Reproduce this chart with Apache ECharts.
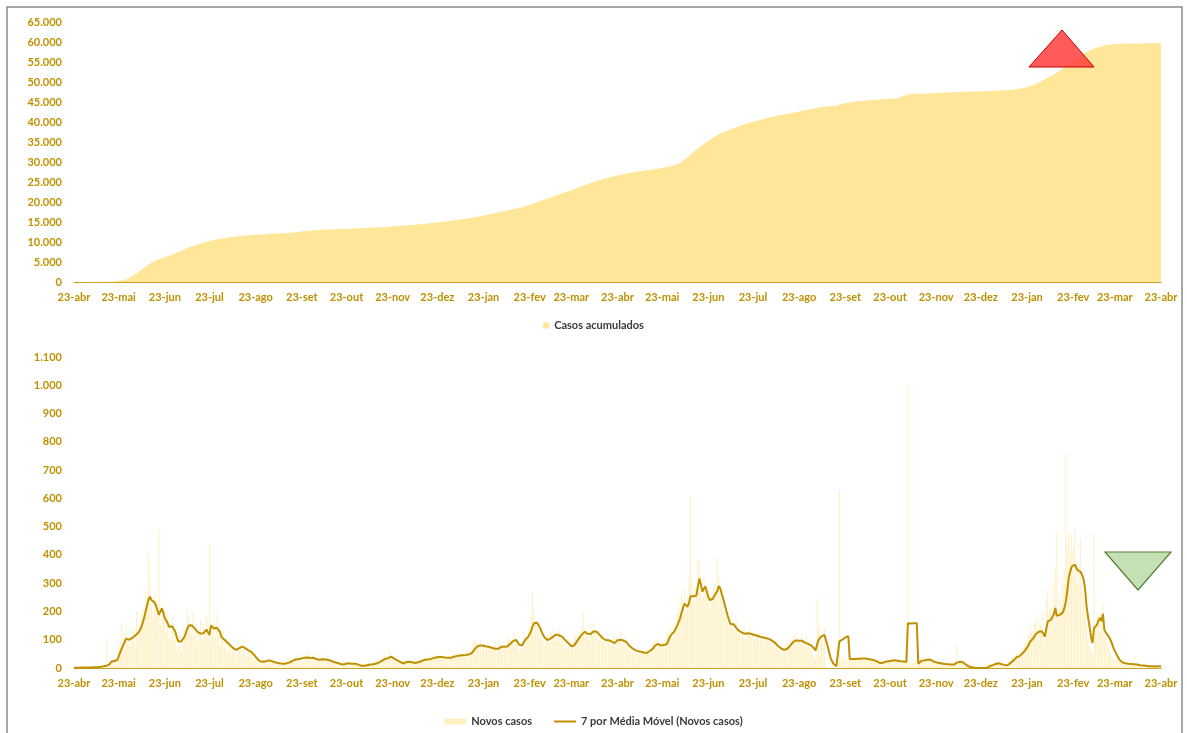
<!DOCTYPE html>
<html><head><meta charset="utf-8">
<script src="https://cdn.jsdelivr.net/npm/echarts@6/dist/echarts.min.js"></script>
<style>html,body{margin:0;padding:0;background:#fff}#c{width:1187px;height:733px}</style>
</head><body><div id="c"></div>
<script>
// ---- data ----
const startDate = [2020, 4, 23];
const dayCount = 731;
const monthAbbr = ['jan','fev','mar','abr','mai','jun','jul','ago','set','out','nov','dez'];
const cumulativeStepDays = 7;
// cumulative cases, one reading every 7 days from 23-abr-2020, last one on 23-abr-2022
const cumulativeCases = [
 10,20,40,70,200,650,2100,4100,5600,6450,
 7450,8650,9500,10250,10800,11200,11500,11750,11900,12050,
 12200,12400,12700,12950,13100,13200,13300,13400,13500,13600,
 13750,14000,14200,14400,14650,14950,15250,15600,16000,16450,
 17000,17550,18100,18700,19500,20500,21400,22300,23200,24200,
 25100,25900,26550,27150,27550,27950,28300,28800,29500,31500,
 33700,35600,37100,38200,39100,39950,40650,41300,41800,42300,
 42900,43400,43900,44000,44750,45150,45350,45550,45750,45950,
 46950,47050,47150,47300,47400,47500,47600,47650,47750,47850,
 48050,48450,49200,50500,51800,53600,55600,57300,58500,59200,
 59500,59600,59650,59680,59700,59700
];
// daily new cases
const newCases = [
 0,2,1,0,1,3,2,1,3,2,
 1,3,2,2,5,3,4,6,3,7,
 6,9,98,10,14,22,20,25,30,40,
 60,90,160,70,120,150,95,80,110,130,
 140,90,200,120,150,180,210,160,280,230,
 405,300,220,180,260,240,190,488,150,230,
 210,170,130,200,110,90,180,140,100,60,
 80,120,60,100,140,130,210,180,150,120,
 200,110,160,90,130,170,100,150,120,180,
 100,441,140,120,160,110,190,140,80,100,
 130,70,110,60,90,80,50,70,60,40,
 90,60,80,50,100,70,40,60,50,70,
 40,30,50,20,30,15,25,20,30,18,
 35,20,30,15,25,10,20,15,18,12,
 10,20,15,25,12,45,30,20,35,40,
 25,50,30,40,20,45,35,60,30,40,
 45,30,50,20,35,25,40,30,35,20,
 40,25,30,20,25,15,20,10,18,12,
 15,8,20,12,25,10,18,12,15,20,
 10,15,5,10,8,5,12,8,15,10,
 15,10,20,12,25,18,30,45,35,50,
 30,40,65,35,30,25,20,35,18,22,
 15,25,20,30,18,22,15,25,20,12,
 20,28,25,30,35,22,40,30,45,25,
 35,45,30,50,40,35,45,30,40,35,
 30,45,40,35,50,45,40,55,48,40,
 55,40,50,45,60,50,55,65,90,100,
 90,80,70,95,60,85,75,70,90,65,
 80,70,65,90,55,85,100,75,70,80,
 70,95,110,100,90,120,85,100,75,60,
 70,90,130,110,100,140,150,180,264,200,
 170,150,120,100,140,90,80,110,120,90,
 130,110,140,100,120,90,130,100,110,80,
 90,70,100,60,80,90,120,110,100,130,
 120,150,200,110,140,120,100,150,130,160,
 140,110,130,100,120,90,100,80,110,90,
 100,80,110,70,120,100,90,130,85,100,
 110,80,70,60,90,50,70,55,60,45,
 65,50,60,45,55,70,60,50,80,90,
 100,70,85,90,75,80,95,70,110,130,
 120,140,110,160,150,190,220,200,260,240,
 280,200,250,330,605,300,240,280,260,380,
 390,280,250,330,300,260,240,210,250,280,
 300,270,390,320,260,240,220,200,180,160,
 150,190,140,160,130,170,120,140,110,130,
 140,100,130,120,150,110,120,100,130,110,
 120,100,130,90,110,100,120,90,100,80,
 90,70,100,60,80,50,70,60,80,90,
 70,100,90,110,120,80,100,110,90,120,
 100,80,110,70,90,60,50,40,30,246,
 150,120,100,90,140,0,0,0,0,0,
 0,0,0,0,630,30,25,40,35,30,
 40,25,30,35,40,30,25,35,45,30,
 35,30,40,25,35,30,25,30,20,25,
 15,20,18,25,22,30,20,28,25,30,
 25,30,22,28,20,25,22,18,25,20,
 1000,15,20,18,25,22,15,12,30,35,
 25,30,28,35,30,25,20,22,18,15,
 20,15,18,12,15,10,14,12,10,15,
 10,12,25,82,15,20,18,12,8,5,
 3,2,4,1,2,0,0,0,0,0,
 0,0,0,5,15,20,12,15,18,22,
 20,15,12,18,10,8,12,15,25,30,
 35,40,45,50,38,42,55,70,80,90,
 100,120,150,130,110,160,180,140,170,150,
 200,120,90,250,280,200,220,180,300,350,
 480,200,260,220,300,350,760,450,480,400,
 470,420,490,380,300,350,460,300,250,200,
 150,100,80,60,50,480,150,200,180,190,
 160,230,110,120,90,70,60,40,35,25,
 30,20,25,15,18,12,15,10,12,8,
 12,10,15,8,10,12,6,10,8,9,
 7,5,8,4,6,5,3,6,5,7,
 4
];
// 7-day moving average of new cases
const movingAvg7 = [
 1,1,1,1,1,1,2,2,2,2,
 2,2,2,2,3,3,3,4,4,5,
 6,7,8,10,14,22,25,25,25,28,
 40,55,68,80,92,104,108,100,102,106,
 110,114,120,124,132,142,158,175,198,220,
 242,252,240,236,232,222,205,188,200,211,
 195,176,168,162,145,142,148,138,128,110,
 94,92,94,98,108,122,138,150,153,151,
 148,140,133,128,125,122,124,123,130,136,
 126,117,150,146,140,138,142,148,128,110,
 106,100,94,90,84,80,75,70,67,64,
 66,70,73,76,74,70,66,63,60,57,
 52,46,40,33,27,24,22,22,23,24,
 26,27,26,24,22,20,19,18,17,16,
 15,15,16,17,17,20,24,26,28,30,
 31,32,33,34,35,36,36,37,36,35,
 37,36,34,31,30,29,30,31,31,30,
 29,28,27,25,22,20,19,18,16,14,
 13,12,14,16,17,16,15,15,14,15,
 14,12,10,8,7,8,9,10,11,12,
 12,13,14,16,18,20,22,26,30,32,
 33,35,38,40,37,33,29,27,25,22,
 18,16,18,20,22,22,21,20,19,18,
 18,20,22,24,26,28,29,30,31,31,
 32,34,36,37,38,39,40,39,38,37,
 36,36,35,36,38,40,41,42,43,44,
 45,45,44,46,47,48,50,52,58,66,
 73,77,79,80,79,79,78,76,75,74,
 73,71,70,68,66,68,72,75,76,75,
 74,76,80,86,92,96,98,99,92,82,
 77,80,90,99,104,110,116,130,148,158,
 161,160,156,142,128,118,108,102,99,100,
 104,108,112,116,119,118,115,112,110,105,
 98,93,88,82,77,76,80,88,96,104,
 110,118,124,128,126,121,117,120,126,130,
 132,128,122,117,112,106,101,99,97,98,
 99,94,90,88,92,98,99,100,98,97,
 96,92,86,78,74,70,66,63,61,59,
 58,57,56,54,53,54,57,61,64,70,
 78,84,85,83,80,80,81,80,84,95,
 108,117,122,128,134,148,162,175,195,212,
 228,222,216,230,254,256,254,252,256,290,
 317,295,270,280,288,270,251,240,235,245,
 255,258,272,290,282,262,245,225,204,185,
 168,155,156,155,148,140,134,130,126,124,
 122,121,122,123,122,120,118,117,116,114,
 112,110,109,108,106,105,104,102,100,96,
 93,88,82,77,72,69,66,64,64,68,
 73,79,85,92,96,98,97,96,97,96,
 93,90,88,85,82,80,76,70,62,82,
 100,106,112,115,117,112,80,58,38,25,
 15,10,6,2,94,97,100,104,108,112,
 113,32,32,32,33,32,32,33,35,34,
 34,34,33,32,31,30,29,28,26,24,
 21,18,17,18,20,22,23,24,26,26,
 26,27,26,26,25,24,24,23,22,22,
 158,158,157,158,158,159,158,15,20,25,
 26,27,28,29,30,30,27,24,22,20,
 19,18,17,16,15,14,13,13,12,12,
 12,12,14,19,21,22,22,20,15,12,
 8,5,4,3,2,1,1,0,0,0,
 0,0,0,1,3,6,8,10,12,14,
 16,17,15,13,12,11,10,10,13,18,
 22,27,32,38,40,42,45,52,58,64,
 70,80,92,99,104,112,120,126,128,130,
 130,122,111,140,165,168,170,172,190,212,
 185,182,188,192,196,210,232,270,318,340,
 358,362,366,364,346,342,340,330,314,280,
 218,180,147,110,88,141,148,153,168,177,
 165,192,134,125,118,110,100,88,72,60,
 50,40,30,24,20,18,17,16,15,15,
 14,13,13,12,12,11,10,10,9,9,
 8,7,6,6,6,5,5,5,6,6,
 6
];

// ---- build ----
const dates = [];
const t0 = Date.UTC(startDate[0], startDate[1] - 1, startDate[2]);
for (let i = 0; i < dayCount; i++) dates.push(new Date(t0 + i * 86400000).toISOString().slice(0, 10));
const cumData = cumulativeCases.map((v, i) => [Math.min(i * cumulativeStepDays, dayCount - 1), v]);

const gold = '#BF9000';
const pale = '#FFE699';
const fmtNum = v => String(v).replace(/\B(?=(\d{3})+(?!\d))/g, '.');
const fmtDate = v => { const p = v.split('-'); return p[2] + '-' + monthAbbr[+p[1] - 1]; };
const lblFont = { color: gold, fontWeight: 'bold', fontSize: 11, fontFamily: 'Lato' };

function xAxisCfg(gi) {
  return {
    type: 'category', gridIndex: gi, data: dates, boundaryGap: false,
    axisLine: { show: true, lineStyle: { color: '#C9A227', width: 1.2 } },
    axisTick: { show: false },
    splitLine: { show: false },
    axisLabel: Object.assign({ interval: (idx, val) => val.slice(8, 10) === '23', formatter: fmtDate, margin: 10 }, lblFont)
  };
}
function yAxisCfg(gi, max, step) {
  return {
    type: 'value', gridIndex: gi, min: 0, max: max, interval: step,
    axisLine: { show: false }, axisTick: { show: false }, splitLine: { show: false },
    axisLabel: Object.assign({ formatter: fmtNum, margin: 12 }, lblFont)
  };
}

const chart = echarts.init(document.getElementById('c'), null, { renderer: 'canvas' });
chart.setOption({
  animation: false,
  backgroundColor: '#fff',
  grid: [
    { left: 74, right: 26, top: 22, height: 260 },
    { left: 74, right: 26, top: 357, height: 311 }
  ],
  xAxis: [xAxisCfg(0), xAxisCfg(1)],
  yAxis: [yAxisCfg(0, 65000, 5000), yAxisCfg(1, 1100, 100)],
  legend: [
    { data: ['Casos acumulados'], top: 315, left: 'center', icon: 'rect', itemWidth: 6, itemHeight: 6,
      textStyle: { color: '#3A3A3A', fontWeight: 'bold', fontSize: 11, fontFamily: 'Lato' } },
    { data: [
        { name: 'Novos casos', icon: 'rect' },
        { name: '7 por Média Móvel (Novos casos)', icon: 'path://M0,0 L22,0 L22,2 L0,2 Z' }
      ],
      top: 711, left: 'center', itemWidth: 22, itemHeight: 6, itemGap: 22,
      textStyle: { color: '#3A3A3A', fontWeight: 'bold', fontSize: 11, fontFamily: 'Lato' } }
  ],
  series: [
    { name: 'Casos acumulados', type: 'line', xAxisIndex: 0, yAxisIndex: 0, data: cumData,
      symbol: 'none', color: pale, lineStyle: { width: 0 }, areaStyle: { color: pale, opacity: 1 } },
    { name: 'Novos casos', type: 'bar', xAxisIndex: 1, yAxisIndex: 1, data: newCases,
      barWidth: 1, color: pale, itemStyle: { color: pale, opacity: 0.6 } },
    { name: '7 por Média Móvel (Novos casos)', type: 'line', xAxisIndex: 1, yAxisIndex: 1, data: movingAvg7,
      symbol: 'none', showSymbol: false, color: gold, lineStyle: { color: gold, width: 2 } }
  ],
  graphic: [
    { type: 'rect', silent: true, z: 100, shape: { x: 7, y: 7, width: 1175, height: 745 },
      style: { fill: 'none', stroke: '#8C8C8C', lineWidth: 1.5 } },
    { type: 'polygon', silent: true, z: 100, shape: { points: [[1062, 30], [1029, 67], [1094, 67]] },
      style: { fill: 'rgba(255,55,55,0.82)', stroke: '#C00000', lineWidth: 1 } },
    { type: 'polygon', silent: true, z: 100, shape: { points: [[1105, 552], [1171, 552], [1138, 590]] },
      style: { fill: '#C5E0B4', stroke: '#548235', lineWidth: 1.2 } }
  ]
});
</script>
</body></html>
